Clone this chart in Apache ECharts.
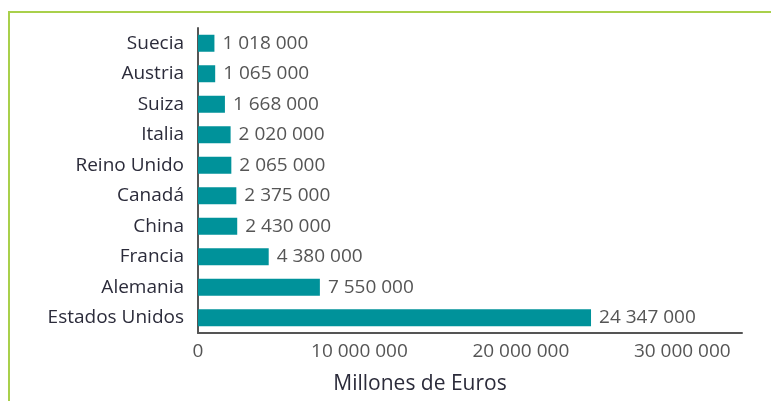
<!DOCTYPE html>
<html>
<head>
<meta charset="utf-8">
<script src="https://cdn.jsdelivr.net/npm/echarts@6/dist/echarts.min.js"></script>
<style>
  html,body{margin:0;padding:0;background:#fff;}
  #frame{position:absolute;left:8px;top:11px;width:763px;height:390px;border-top:2px solid #a9d04b;border-left:2px solid #a9d04b;}
  #chart{position:absolute;left:0;top:0;width:771px;height:401px;}
</style>
</head>
<body>
<div id="frame"></div>
<div id="chart"></div>
<script>
// paises, de abajo hacia arriba
var categories = ['Estados Unidos','Alemania','Francia','China','Canadá','Reino Unido','Italia','Suiza','Austria','Suecia']
var values = [24347000, 7550000, 4380000, 2430000, 2375000, 2065000, 2020000, 1668000, 1065000, 1018000]
var tickValues = [0, 10000000, 20000000, 30000000]
var axisTitle = 'Millones de Euros'

function fmt(v){
  return String(v).replace(/\B(?=(\d{3})+(?!\d))/g, ' ')
}

var myChart = echarts.init(document.getElementById('chart'))

var option = {
  animation: false,
  backgroundColor: 'transparent',
  textStyle: { fontFamily: 'Open Sans' },
  title: {
    text: axisTitle,
    left: 415,
    top: 369,
    textAlign: 'center',
    textStyle: { fontSize: 21, fontWeight: 'normal', color: '#2b2b3a', fontFamily: 'Open Sans' }
  },
  grid: { left: 198, right: 29, top: 28, bottom: 68 },
  xAxis: {
    type: 'value',
    min: 0,
    max: 33700000,
    interval: 10000000,
    axisLine: { show: true, lineStyle: { color: '#555', width: 2 } },
    axisTick: { show: false },
    splitLine: { show: false },
    axisLabel: {
      showMaxLabel: false,
      margin: 9,
      fontSize: 19,
      color: '#555',
      formatter: function (v) { return tickValues.indexOf(v) >= 0 ? fmt(v) : '' }
    }
  },
  yAxis: {
    type: 'category',
    data: categories,
    axisLine: { show: true, lineStyle: { color: '#555', width: 2 } },
    axisTick: { show: false },
    axisLabel: { margin: 14, fontSize: 19, color: '#2b2b3a' }
  },
  series: [{
    type: 'bar',
    data: values,
    barWidth: 17,
    itemStyle: { color: '#00929a' },
    label: {
      show: true,
      position: 'right',
      distance: 8,
      fontSize: 19,
      color: '#555',
      formatter: function (p) { return fmt(p.value) }
    }
  }]
}

myChart.setOption(option, true)
</script>
</body>
</html>
